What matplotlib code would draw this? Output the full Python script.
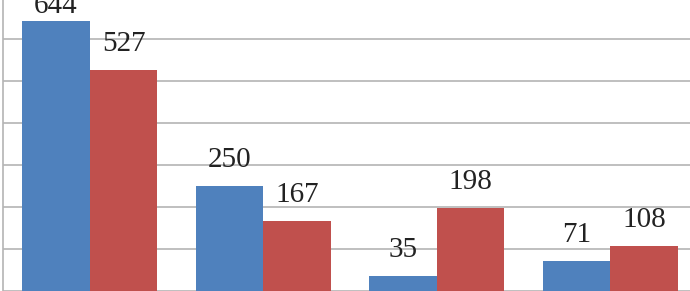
import numpy as np
import matplotlib as mpl
mpl.use("Agg")
import matplotlib.pyplot as plt

groups = ["A", "B", "C", "D"]
series_1 = [644, 250, 35, 71]
series_2 = [527, 167, 198, 108]
COL = {"s1": "#4F81BD", "s2": "#C0504D", "grid": "#B4B4B4"}

fig = plt.figure(figsize=(6.9, 2.91), dpi=100)
ax = fig.add_axes([3 / 690, 0, 1 - 3 / 690, 294 / 291])

x = np.arange(len(groups))
w = 0.39
b1 = ax.bar(x - w / 2, series_1, w, color=COL["s1"], zorder=2)
b2 = ax.bar(x + w / 2, series_2, w, color=COL["s2"], zorder=2)

top = max(series_1 + series_2)
for bars in (b1, b2):
    for r in bars:
        v = r.get_height()
        off = 8 if v == top else 19
        ax.annotate(f"{v:.0f}", (r.get_x() + r.get_width() / 2, v), xytext=(0, off),
                    textcoords="offset pixels", ha="center", va="baseline",
                    fontsize=21, family="Liberation Serif", color="#222222")

ax.set_xlim(-0.5, 3.46)
ax.set_ylim(0, 700)
ax.set_yticks(np.arange(0, 701, 100))
ax.grid(axis="y", color=COL["grid"], lw=1.2, zorder=0)
ax.tick_params(left=False, bottom=False, labelleft=False, labelbottom=False)
for s in ("top", "right", "bottom"):
    ax.spines[s].set_visible(False)
ax.spines["left"].set_color(COL["grid"])
ax.spines["left"].set_linewidth(1.2)

fig.savefig("out.png", dpi=100)
